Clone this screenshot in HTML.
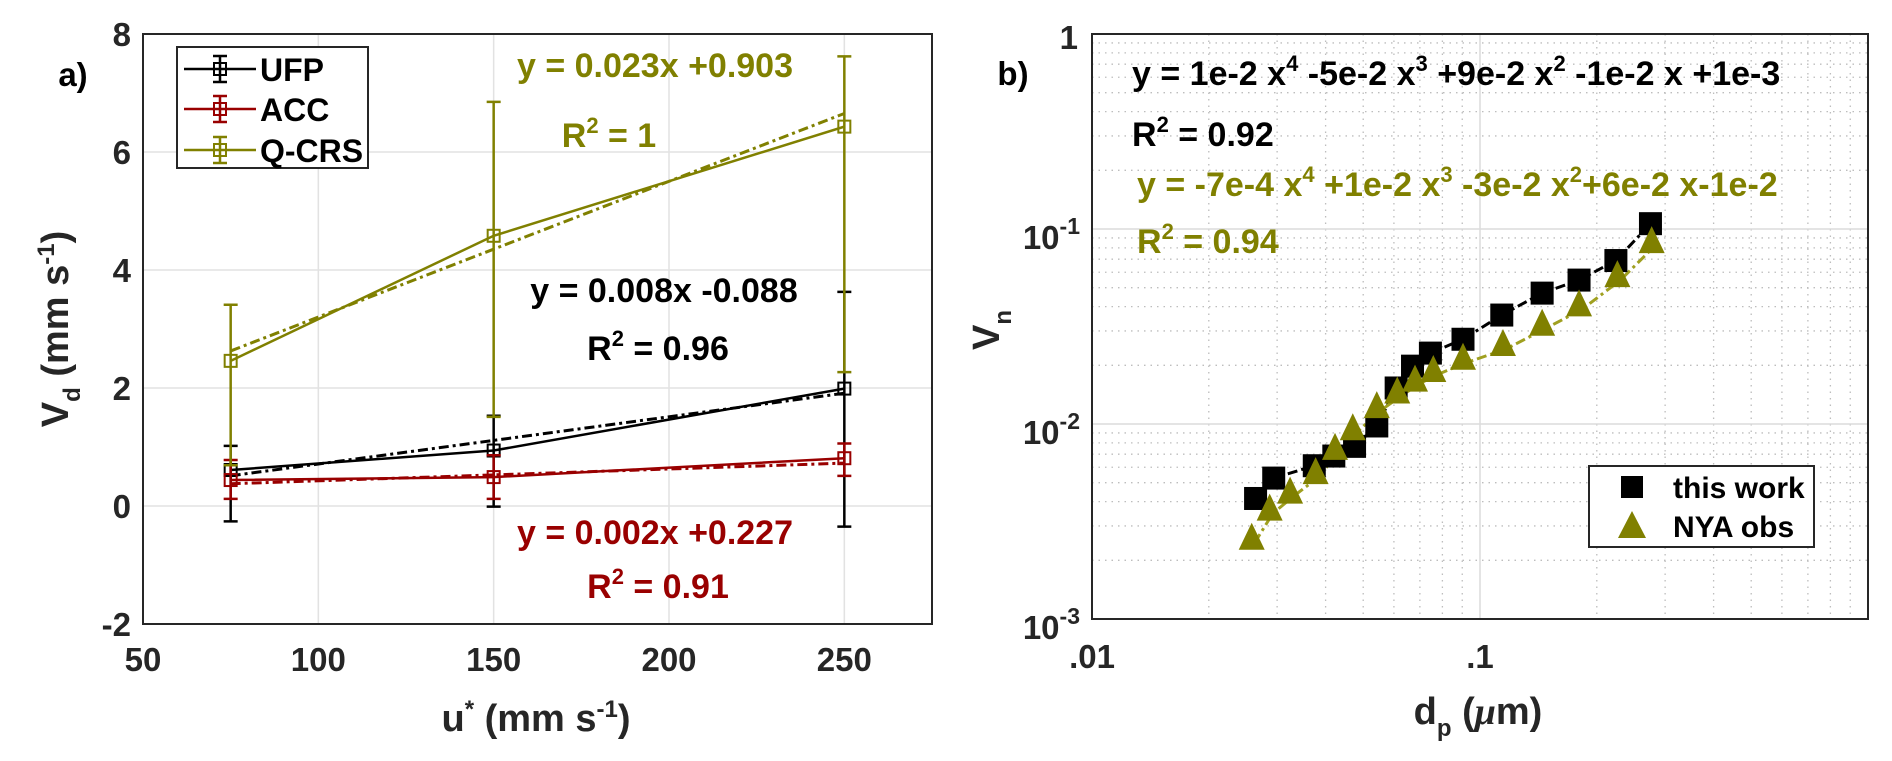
<!DOCTYPE html>
<html><head><meta charset="utf-8"><style>
html,body{margin:0;padding:0;background:#fff}
svg{display:block}
text{font-family:"Liberation Sans",Arial,sans-serif;font-weight:bold}
</style></head><body>
<svg id="fig" width="1892" height="761" viewBox="0 0 1892 761" xmlns="http://www.w3.org/2000/svg">
<g id="pa"></g>
<g id="pb"></g>
</svg>
<script>
// ---- Panel a data ----
const aX = [75, 150, 250];
const ufpY = [0.61, 0.94, 1.99];
const ufpHi = [1.02, 1.53, 3.63];
const ufpLo = [-0.26, -0.01, -0.35];
const accY = [0.44, 0.49, 0.81];
const accHi = [0.78, 0.86, 1.06];
const accLo = [0.12, 0.12, 0.51];
const qY = [2.46, 4.58, 6.43];
const qHi = [3.41, 6.85, 7.62];
const qLo = [0.69, 1.51, 2.27];
const fitSlope = [0.008, 0.002, 0.023];
const fitIntercept = [-0.088, 0.227, 0.903];
const aXTicks = [50, 100, 150, 200, 250];
const aYTicks = [-2, 0, 2, 4, 6, 8];
// ---- Panel b data ----
const sqX = [0.0264,0.0294,0.0374,0.042,0.0475,0.0542,0.0608,0.067,0.0745,0.0904,0.1138,0.1446,0.180,0.224,0.275];
const sqY = [0.00415,0.00528,0.00611,0.00685,0.00768,0.00977,0.0153,0.0198,0.0231,0.0272,0.0362,0.0469,0.0547,0.0689,0.1065];
const trX = [0.0258,0.0287,0.0324,0.0377,0.0423,0.047,0.0542,0.0612,0.068,0.0758,0.0904,0.1146,0.1446,0.180,0.226,0.277];
const trY = [0.00258,0.00364,0.00445,0.0056,0.00746,0.0094,0.0122,0.0145,0.0167,0.0187,0.0216,0.0254,0.0323,0.0406,0.0573,0.0857];
const bXTicks = [0.01, 0.1];
const bXLabels = [".01", ".1"];
const bYExp = [-3, -2, -1, 0];

const NS = "http://www.w3.org/2000/svg";
function mk(parent, tag, attrs, txt){const e=document.createElementNS(NS,tag);for(const k in attrs)e.setAttribute(k,attrs[k]);if(txt!==undefined)e.textContent=txt;parent.appendChild(e);return e;}
const OLIVE="#808000", RED="#990000";

// ===== Panel a =====
const pa=document.getElementById('pa');
const aL=143,aR=932,aT=34,aB=624;
const ax=v=>aL+(v-50)/(275-50)*(aR-aL);
const ay=v=>aB-(v+2)/10*(aB-aT);
aXTicks.forEach(t=>{
  const g=mk(pa,'line',{x1:ax(t),x2:ax(t),y1:aT,y2:aB,stroke:'#e2e2e2','stroke-width':1.5});
  
  
  const l=mk(pa,'text',{x:ax(t),y:671,'text-anchor':'middle','font-size':33,fill:'#262626'},String(t));
  
  
});
aYTicks.forEach(t=>{
  const g=mk(pa,'line',{x1:aL,x2:aR,y1:ay(t),y2:ay(t),stroke:'#e2e2e2','stroke-width':1.5});
  
  
  const l=mk(pa,'text',{x:131,y:ay(t)+12,'text-anchor':'end','font-size':33,fill:'#262626'},String(t));
  
  
});
const fr=mk(pa,'rect',{x:aL,y:aT,width:aR-aL,height:aB-aT,fill:'none',stroke:'#262626','stroke-width':2});



const series=[{n:'ufp',y:ufpY,hi:ufpHi,lo:ufpLo,c:'#000'},{n:'acc',y:accY,hi:accHi,lo:accLo,c:RED},{n:'q-crs',y:qY,hi:qHi,lo:qLo,c:OLIVE}];
series.forEach((s,si)=>{
  const f=mk(pa,'line',{x1:ax(aX[0]),y1:ay(fitSlope[si]*aX[0]+fitIntercept[si]),x2:ax(aX[2]),y2:ay(fitSlope[si]*aX[2]+fitIntercept[si]),stroke:s.c,'stroke-width':3,'stroke-dasharray':'10 4 3 4'});
  
  
  const p=mk(pa,'polyline',{points:aX.map((x,i)=>ax(x)+','+ay(s.y[i])).join(' '),fill:'none',stroke:s.c,'stroke-width':2.5});
  
  
  aX.forEach((x,i)=>{
    const e=mk(pa,'path',{d:`M${ax(x)},${ay(s.hi[i])}V${ay(s.lo[i])}M${ax(x)-7},${ay(s.hi[i])}h14M${ax(x)-7},${ay(s.lo[i])}h14`,stroke:s.c,'stroke-width':2.5,fill:'none'});
    
    
    const m=mk(pa,'rect',{x:ax(x)-6,y:ay(s.y[i])-6,width:12,height:12,fill:'none',stroke:s.c,'stroke-width':2});
    
    
  });
});
</script>
<script>
(function(){
const pa=document.getElementById('pa');
const OLIVE="#808000", RED="#990000";
pa.insertAdjacentHTML('beforeend',`
<text x="73" y="86" text-anchor="middle" font-size="33" fill="#000">a)</text>
<g>
<rect x="177" y="47" width="191" height="121" fill="#fff" stroke="#262626" stroke-width="2"/>
<g><path d="M184,69h72M220,56v26M213,56h14M213,82h14" stroke="#000" stroke-width="2.5" fill="none"/><rect x="214" y="63" width="12" height="12" fill="none" stroke="#000" stroke-width="2"/><text x="260" y="81" font-size="32" fill="#000">UFP</text></g>
<g><path d="M184,109h72M220,96v26M213,96h14M213,122h14" stroke="${RED}" stroke-width="2.5" fill="none"/><rect x="214" y="103" width="12" height="12" fill="none" stroke="${RED}" stroke-width="2"/><text x="260" y="121" font-size="32" fill="#000">ACC</text></g>
<g><path d="M184,150h72M220,137v26M213,137h14M213,163h14" stroke="${OLIVE}" stroke-width="2.5" fill="none"/><rect x="214" y="144" width="12" height="12" fill="none" stroke="${OLIVE}" stroke-width="2"/><text x="260" y="162" font-size="32" fill="#000">Q-CRS</text></g>
</g>
<text x="655" y="77" text-anchor="middle" font-size="34" fill="${OLIVE}">y = 0.023x +0.903</text>
<text x="609" y="147" text-anchor="middle" font-size="34" fill="${OLIVE}">R<tspan dy="-14" font-size="22">2</tspan><tspan dy="14"> = 1</tspan></text>
<text x="664" y="302" text-anchor="middle" font-size="34" fill="#000">y = 0.008x -0.088</text>
<text x="658" y="360" text-anchor="middle" font-size="34" fill="#000">R<tspan dy="-14" font-size="22">2</tspan><tspan dy="14"> = 0.96</tspan></text>
<text x="655" y="544" text-anchor="middle" font-size="34" fill="${RED}">y = 0.002x +0.227</text>
<text x="658" y="598" text-anchor="middle" font-size="34" fill="${RED}">R<tspan dy="-14" font-size="22">2</tspan><tspan dy="14"> = 0.91</tspan></text>
<text x="536" y="731" text-anchor="middle" font-size="38" fill="#262626">u<tspan dy="-14" font-size="24">*</tspan><tspan dy="14"> (mm s</tspan><tspan dy="-14" font-size="24">-1</tspan><tspan dy="14">)</tspan></text>
<text transform="translate(68,329) rotate(-90)" text-anchor="middle" font-size="38" fill="#262626">V<tspan dy="12" font-size="24">d</tspan><tspan dy="-12"> (mm s</tspan><tspan dy="-14" font-size="24">-1</tspan><tspan dy="14">)</tspan></text>
`);
})();

// ===== Panel b =====
const pb=document.getElementById('pb');
const bL=1092,bR=1868,bT=34,bB=619;
const bx=v=>bL+(Math.log10(v)+2)/2*(bR-bL);
const by=v=>bB-(Math.log10(v)+3)/3*(bB-bT);
for(let d=-2;d<0;d++){for(let k=2;k<=9;k++){const v=k*Math.pow(10,d);
  const g=mk(pb,'line',{x1:bx(v),x2:bx(v),y1:bT,y2:bB,stroke:'#bdbdbd','stroke-width':1.3,'stroke-dasharray':'1.5 5'});
  
  }}
for(let d=-3;d<0;d++){for(let k=2;k<=9;k++){const v=k*Math.pow(10,d);
  const g=mk(pb,'line',{x1:bL,x2:bR,y1:by(v),y2:by(v),stroke:'#bdbdbd','stroke-width':1.3,'stroke-dasharray':'1.5 5'});
  
  }}
bXTicks.forEach((t,i)=>{
  const g=mk(pb,'line',{x1:bx(t),x2:bx(t),y1:bT,y2:bB,stroke:'#dcdcdc','stroke-width':1.5});
  
  
  const l=mk(pb,'text',{x:bx(t),y:668,'text-anchor':'middle','font-size':33,fill:'#262626'},bXLabels[i]);
  
  
});
bYExp.forEach(e=>{
  const v=Math.pow(10,e);
  const g=mk(pb,'line',{x1:bL,x2:bR,y1:by(v),y2:by(v),stroke:'#dcdcdc','stroke-width':1.5});
  
  
  let l;
  if(e===0){l=mk(pb,'text',{x:1078,y:by(v)+15,'text-anchor':'end','font-size':33,fill:'#262626'},'1');}
  else{l=mk(pb,'text',{x:1080,y:by(v)+20,'text-anchor':'end','font-size':33,fill:'#262626'});
    mk(l,'tspan',{},'10');mk(l,'tspan',{dy:-15,'font-size':23},String(e));}
  
  
});
const fb=mk(pb,'rect',{x:bL,y:bT,width:bR-bL,height:bB-bT,fill:'none',stroke:'#262626','stroke-width':2});


const l1=mk(pb,'polyline',{points:sqX.map((x,i)=>bx(x)+','+by(sqY[i])).join(' '),fill:'none',stroke:'#000','stroke-width':3,'stroke-dasharray':'10 4 3 4'});


const l2=mk(pb,'polyline',{points:trX.map((x,i)=>(bx(x)+3)+','+(by(trY[i])+4)).join(' '),fill:'none',stroke:'#a0a020','stroke-width':3,'stroke-dasharray':'10 4 3 4'});


sqX.forEach((x,i)=>{
  const m=mk(pb,'rect',{x:bx(x)-11.5,y:by(sqY[i])-11.5,width:23,height:23,fill:'#000'});
  
  
});
trX.forEach((x,i)=>{
  const cx=bx(x),cy=by(trY[i]);
  const m=mk(pb,'polygon',{points:`${cx},${cy-16} ${cx-13},${cy+11} ${cx+13},${cy+11}`,fill:'#808000'});
  
  
});
</script>
<script>
(function(){
const pb=document.getElementById('pb');
const OLIVE="#808000";
pb.insertAdjacentHTML('beforeend',`
<text x="1013" y="85" text-anchor="middle" font-size="33" fill="#000">b)</text>
<text x="1132" y="85" font-size="34" fill="#000">y = 1e-2 x<tspan dy="-14" font-size="22">4</tspan><tspan dy="14"> -5e-2 x</tspan><tspan dy="-14" font-size="22">3</tspan><tspan dy="14"> +9e-2 x</tspan><tspan dy="-14" font-size="22">2</tspan><tspan dy="14"> -1e-2 x +1e-3</tspan></text>
<text x="1132" y="146" font-size="34" fill="#000">R<tspan dy="-14" font-size="22">2</tspan><tspan dy="14"> = 0.92</tspan></text>
<text x="1137" y="196" font-size="34" fill="${OLIVE}">y = -7e-4 x<tspan dy="-14" font-size="22">4</tspan><tspan dy="14"> +1e-2 x</tspan><tspan dy="-14" font-size="22">3</tspan><tspan dy="14"> -3e-2 x</tspan><tspan dy="-14" font-size="22">2</tspan><tspan dy="14">+6e-2 x-1e-2</tspan></text>
<text x="1137" y="253" font-size="34" fill="${OLIVE}">R<tspan dy="-14" font-size="22">2</tspan><tspan dy="14"> = 0.94</tspan></text>
<g>
<rect x="1589" y="466" width="225" height="81" fill="#fff" stroke="#262626" stroke-width="2"/>
<g><rect x="1621" y="476" width="22" height="22" fill="#000"/><text x="1673" y="498" font-size="30" fill="#000">this work</text></g>
<g><polygon points="1632,511 1618,538 1646,538" fill="#808000"/><text x="1673" y="537" font-size="30" fill="#000">NYA obs</text></g>
</g>
<text x="1478" y="724" text-anchor="middle" font-size="38" fill="#262626">d<tspan dy="12" font-size="24">p</tspan><tspan dy="-12"> (</tspan><tspan font-family="Liberation Serif" font-style="italic">μ</tspan>m)</text>
<text transform="translate(999,330) rotate(-90)" text-anchor="middle" font-size="38" fill="#262626">V<tspan dy="12" font-size="24">n</tspan></text>
`);
})();
</script>
</body></html>
